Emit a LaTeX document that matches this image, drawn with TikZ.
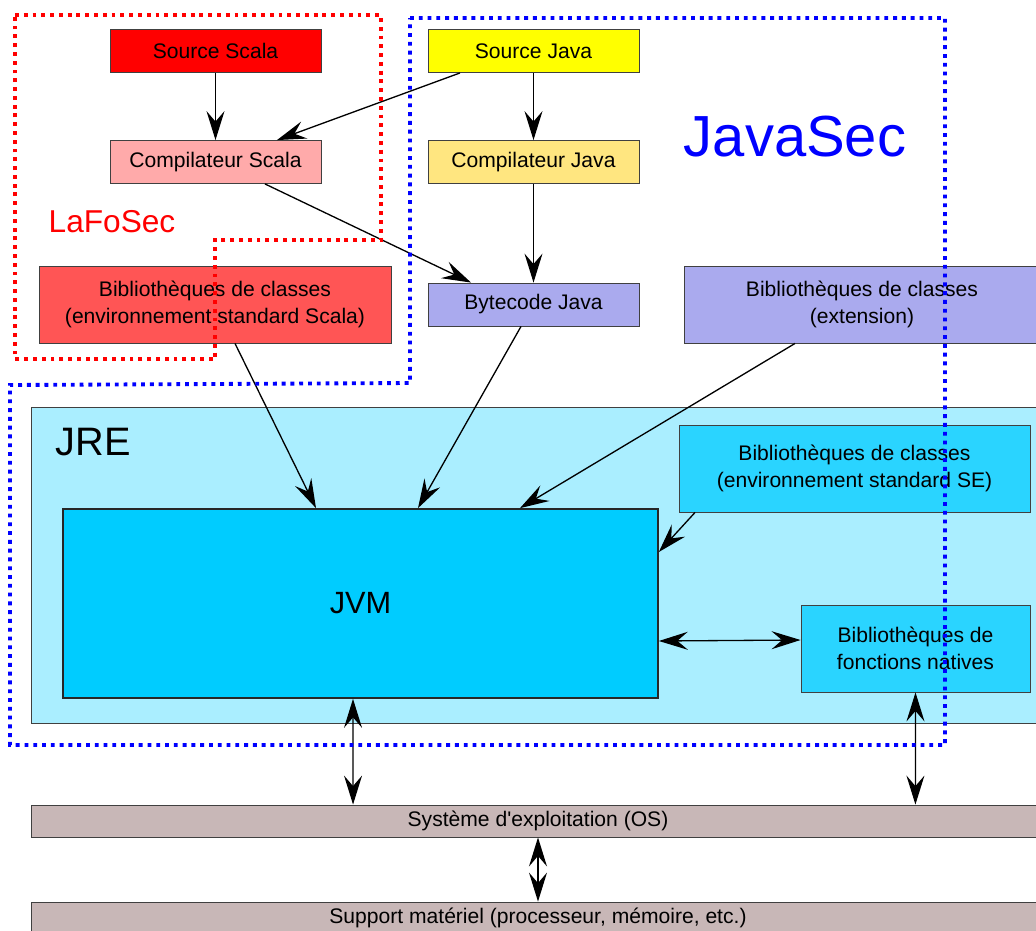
\documentclass[tikz,border=0pt]{standalone}
\usepackage{fontspec}
\setmainfont{Liberation Sans}
\usetikzlibrary{positioning, arrows.meta}

\definecolor{scalared}{HTML}{FF0000}
\definecolor{compscalapink}{HTML}{FFAAAA}
\definecolor{libscalared}{HTML}{FF5555}
\definecolor{javayellow}{HTML}{FFFF00}
\definecolor{compjavayellow}{HTML}{FFE680}
\definecolor{bytecodeblue}{HTML}{AAAAEE}
\definecolor{jrecyan}{HTML}{AAEEFF}
\definecolor{libcyan}{HTML}{2AD4FF}
\definecolor{jvmcyan}{HTML}{00CCFF}
\definecolor{osgrey}{HTML}{C8B7B7}
\definecolor{framered}{HTML}{FF0000}
\definecolor{frameblue}{HTML}{0000FF}

\begin{document}
\begin{tikzpicture}[x=0.02cm, y=-0.02cm,
    >={Stealth[length=0.58cm, width=0.36cm, inset=0.21cm]},
    box/.style={align=center, draw=black!75, line width=0.5pt, inner sep=0pt,
        font=\fontsize{12}{15}\selectfont},
    smallbox/.style={box, minimum width=4.22cm, minimum height=0.86cm},
    libbox/.style={box, minimum height=1.74cm},
    barbox/.style={box, fill=osgrey, minimum width=20.28cm, minimum height=0.64cm},
    flow/.style={->, line width=0.75pt},
    both/.style={<->, line width=0.75pt},
    frame/.style={line width=2.2pt, dash pattern=on 2.2pt off 2.8pt}]
    \useasboundingbox (0, 0) rectangle (1036, 931);

    % JRE background
    \node[draw=black!75, fill=jrecyan, minimum width=20.28cm, minimum height=6.32cm] at (538, 565) (jre) {};
    \node[font=\fontsize{22.6}{25}\selectfont] at (93, 442) (jrelabel) {JRE};

    % sources and compilers
    \node[smallbox, fill=scalared] at (215.5, 51) (srcscala) {Source Scala};
    \node[smallbox, fill=compscalapink] at (215.5, 162) (compscala) {Compilateur Scala};
    \node[smallbox, fill=javayellow] at (533.5, 51) (srcjava) {Source Java};
    \node[smallbox, fill=compjavayellow] at (533.5, 162) (compjava) {Compilateur Java};
    \node[smallbox, fill=bytecodeblue] at (533.5, 304.5) (bytecode) {Bytecode Java};

    % class libraries
    \node[box, fill=libscalared, minimum width=7.04cm, minimum height=1.54cm] at (215, 304.5) (libscala) {Bibliothèques de classes\\(environnement standard Scala)};
    \node[box, fill=bytecodeblue, minimum width=7.12cm, minimum height=1.54cm] at (862, 304.5) (libext) {Bibliothèques de classes\\(extension)};
    \node[libbox, fill=libcyan, minimum width=7.02cm] at (854.5, 468.5) (libse) {Bibliothèques de classes\\(environnement standard SE)};
    \node[libbox, fill=libcyan, minimum width=4.58cm] at (915.5, 648.5) (natives) {Bibliothèques de\\fonctions natives};

    % JVM, OS, hardware
    \node[box, draw=black!85, line width=1pt, fill=jvmcyan, minimum width=11.9cm, minimum height=3.78cm,
        font=\fontsize{17.5}{20}\selectfont] at (360.5, 603.5) (jvm) {JVM};
    \node[barbox] at (538, 821) (os) {Système d\textquotesingle exploitation (OS)};
    \node[barbox] at (538, 918) (support) {Support matériel (processeur, mémoire, etc.)};

    % project names
    \node[text=framered, font=\fontsize{18}{20}\selectfont] at (112, 222) (lafosec) {LaFoSec};
    \node[text=frameblue, font=\fontsize{33}{36}\selectfont] at (795, 137) (javasec) {JavaSec};

    % arrows
    \draw[flow] (srcscala) -- (compscala);
    \draw[flow] ([xshift=-1.47cm]srcjava.south) -- ([xshift=1.23cm]compscala.north);
    \draw[flow] (srcjava) -- (compjava);
    \draw[flow] ([xshift=0.99cm]compscala.south) -- ([xshift=-1.25cm]bytecode.north);
    \draw[flow] (compjava) -- (bytecode);
    \draw[flow] ([xshift=0.4cm]libscala.south) -- ([xshift=-0.89cm]jvm.north);
    \draw[flow] ([xshift=-0.25cm]bytecode.south) -- ([xshift=1.15cm]jvm.north);
    \draw[flow] ([xshift=-1.34cm]libext.south) -- ([xshift=3.19cm]jvm.north);
    \draw[flow] ([xshift=-3.19cm]libse.south) -- ([yshift=1.03cm]jvm.east);
    \draw[both] ([yshift=-0.75cm]jvm.east) -- ([yshift=0.17cm]natives.west);
    \draw[both] ([xshift=-0.15cm]jvm.south) -- ([xshift=-3.7cm]os.north);
    \draw[both] (natives.south) -- ([xshift=7.55cm]os.north);
    \draw[both] (os) -- (support);

    % project frames
    \draw[frame, framered] (15, 15) -- (381, 15) -- (381, 240) -- (215, 240) -- (215, 359) -- (15, 359) -- cycle;
    \draw[frame, frameblue] (410, 18) -- (945, 18) -- (945, 745) -- (10, 745) -- (10, 385) -- (410, 383) -- cycle;
\end{tikzpicture}
\end{document}
